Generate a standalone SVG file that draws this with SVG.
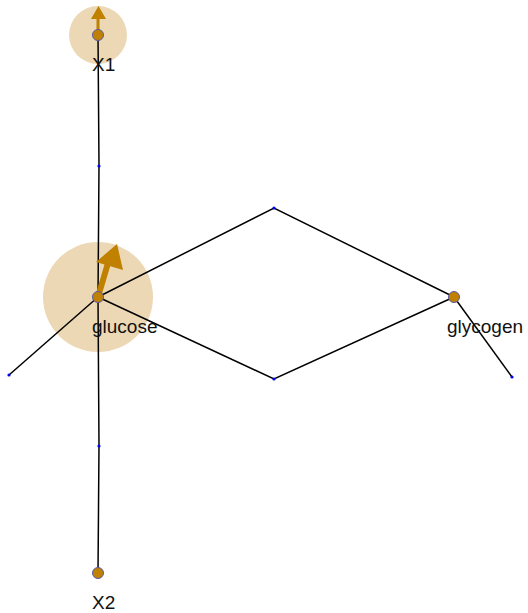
<svg xmlns="http://www.w3.org/2000/svg" width="528" height="613" viewBox="0 0 528 613">
<style>
.halo{fill:#ecd8b4}
.edge{fill:none;stroke:#000;stroke-width:1.5}
.node{fill:#c08000;stroke:#5a5aa8;stroke-width:1}
.dot{fill:#0000ff}
.arrow{fill:#c08000;stroke:none}
.lbl{font-family:"Liberation Sans",Arial,sans-serif;font-size:19px;fill:#111}
</style>
<rect width="528" height="613" fill="#fff"/>
<g id="halos">
<circle class="halo" cx="98" cy="35" r="29"/>
<circle class="halo" cx="98" cy="297" r="55"/>
</g>
<g id="connectors">
<polyline class="edge" points="98,35 99,166 98,297"/>
<polyline class="edge" points="98,573 99,446 98,297"/>
<polyline class="edge" points="98,297 274,208 454,297"/>
<polyline class="edge" points="98,297 274,379 454,297"/>
<line class="edge" x1="98" y1="297" x2="9" y2="375"/>
<line class="edge" x1="454" y1="297" x2="512" y2="377"/>
<circle class="dot" cx="99" cy="166" r="1.6"/>
<circle class="dot" cx="99" cy="446" r="1.6"/>
<circle class="dot" cx="274" cy="208" r="1.6"/>
<circle class="dot" cx="274" cy="379" r="1.6"/>
<circle class="dot" cx="9" cy="375" r="1.6"/>
<circle class="dot" cx="512" cy="377" r="1.6"/>
</g>
<g id="arrows">
<line x1="98" y1="35" x2="98" y2="17" stroke="#c08000" stroke-width="3"/>
<polygon class="arrow" points="98.5,6 106,19 91,19"/>
<line x1="98" y1="297" x2="108" y2="263" stroke="#c08000" stroke-width="6"/>
<polygon class="arrow" points="117,244 123,270 96,262"/>
</g>
<g id="X1">
<circle class="node" cx="98" cy="35" r="5.5"/>
<text class="lbl" x="92" y="71">X1</text>
</g>
<g id="glucose">
<circle class="node" cx="98" cy="297" r="5.5"/>
<text class="lbl" x="92" y="333">glucose</text>
</g>
<g id="glycogen">
<circle class="node" cx="454" cy="297" r="5.5"/>
<text class="lbl" x="447" y="333">glycogen</text>
</g>
<g id="X2">
<circle class="node" cx="98" cy="573" r="5.5"/>
<text class="lbl" x="92" y="609">X2</text>
</g>
</svg>
